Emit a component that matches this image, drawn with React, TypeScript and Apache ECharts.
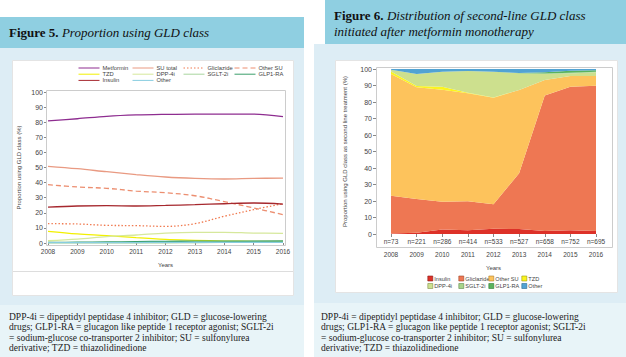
import React, { useEffect, useRef } from 'react';
import * as echarts from 'echarts';

const years = ['2008', '2009', '2010', '2011', '2012', '2013', '2014', '2015', '2016'];
const nLabels = ['n=73', 'n=221', 'n=286', 'n=414', 'n=533', 'n=527', 'n=658', 'n=752', 'n=695'];

// Figure 5 – proportion using GLD class (%)
const metformin = [80.9, 82.3, 83.9, 84.8, 85.2, 85.4, 85.4, 85.4, 83.7];
const suTotal = [50.8, 49.2, 47.2, 45.3, 43.7, 42.8, 42.4, 42.8, 43.0];
const gliclazide5 = [12.8, 12.6, 11.7, 11.5, 11.0, 12.8, 17.7, 22.1, 26.0];
const otherSU5 = [38.6, 37.1, 36.2, 34.4, 33.3, 31.3, 27.4, 23.2, 18.8];
const tzd5 = [7.7, 6.0, 4.9, 3.5, 2.4, 1.8, 1.3, 1.1, 0.9];
const dpp4i5 = [1.5, 2.6, 4.2, 5.3, 6.6, 7.1, 7.1, 6.6, 6.4];
const sglt2i5 = [0, 0, 0, 0, 0, 0.1, 0.5, 1.0, 1.5];
const glp1ra5 = [0.4, 0.5, 0.7, 0.9, 1.1, 1.2, 1.2, 1.3, 1.3];
const insulin5 = [23.8, 24.5, 24.7, 24.5, 24.9, 25.4, 26.0, 26.5, 25.8];
const other5 = [0.2, 0.2, 0.3, 0.3, 0.4, 0.4, 0.4, 0.4, 0.4];

// Figure 6 – distribution of second-line class (%), stacked
const insulin6 = [0.3, 0.8, 2.8, 2.2, 3.2, 3.0, 1.8, 2.2, 1.8];
const gliclazide6 = [22.9, 20.4, 16.8, 17.6, 14.8, 33.8, 82.2, 87.1, 88.1];
const otherSU6 = [73.8, 67.8, 67.9, 65.5, 64.6, 50.5, 9.3, 6.5, 5.9];
const tzd6 = [1.5, 0.7, 1.8, 0.3, 0.2, 0, 0, 0, 0];
const dpp4i6 = [1.1, 7.3, 9.0, 13.2, 15.6, 10.1, 3.7, 1.4, 2.2];
const sglt2i6 = [0, 0, 0, 0, 0, 0, 0.3, 0.6, 0.4];
const glp1ra6 = [0, 0, 0, 0, 0, 0.2, 0.7, 1.2, 0.8];
const other6 = [0.4, 3.0, 1.7, 1.2, 1.6, 2.4, 2.0, 1.0, 0.8];

const captionText =
  'DPP-4i = dipeptidyl peptidase 4 inhibitor; GLD = glucose-lowering\n' +
  'drugs; GLP1-RA = glucagon like peptide 1 receptor agonist; SGLT-2i\n' +
  '= sodium-glucose co-transporter 2 inhibitor; SU = sulfonylurea\n' +
  'derivative; TZD = thiazolidinedione';

const serif = '"Liberation Serif", "DejaVu Serif", serif';
const sans = '"Liberation Sans", Arial, sans-serif';

const HEAD = '#8fcfe1';
const BODY = '#ddedf5';
const CAP = '#e8f4f8';

export default function App() {
  const ref = useRef<HTMLDivElement>(null);

  useEffect(() => {
    document.body.style.margin = '0';
    const chart = echarts.init(ref.current!, undefined, { renderer: 'svg' });

    const lineS = (name: string, data: number[], color: string, type: any = 'solid', width = 1.3) => ({
      name,
      type: 'line',
      xAxisIndex: 0,
      yAxisIndex: 0,
      data,
      smooth: 0.35,
      symbol: 'none',
      itemStyle: { color },
      lineStyle: { color, width, type },
    });
    const areaS = (name: string, data: number[], color: string) => ({
      name,
      type: 'line',
      xAxisIndex: 1,
      yAxisIndex: 1,
      stack: 'total',
      data,
      symbol: 'none',
      itemStyle: { color },
      lineStyle: { width: 0, color },
      areaStyle: { color, opacity: 1 },
    });

    const axisLbl = { fontSize: 6.5, color: '#444', fontFamily: sans };
    const leftLegend = (data: string[], left: number) => ({
      orient: 'vertical',
      left,
      top: 65,
      padding: 0,
      itemGap: 0.2,
      itemWidth: 21,
      itemHeight: 6,
      itemStyle: { opacity: 0, borderWidth: 0 },
      lineStyle: { width: 1 },
      textStyle: { fontSize: 5.8, lineHeight: 6, color: '#444', fontFamily: sans, padding: [0, 0, 0, -2] },
      data,
    });
    const rightLegend = (data: { name: string; border: string }[], left: number) => ({
      orient: 'vertical',
      left,
      top: 275.5,
      padding: 0,
      itemGap: 1.5,
      itemWidth: 5,
      itemHeight: 5,
      icon: 'rect',
      textStyle: { fontSize: 5.6, lineHeight: 6, color: '#444', fontFamily: sans, padding: [0, 0, 0, -3.5] },
      data: data.map((d) => ({ name: d.name, itemStyle: { borderColor: d.border, borderWidth: 0.6 } })),
    });

    const bgEl = (x: number, y: number, w: number, h: number, fill: string, stroke?: string) => ({
      type: 'rect',
      z: -10,
      silent: true,
      shape: { x, y, width: w, height: h },
      style: { fill, stroke: stroke || null, lineWidth: stroke ? 1 : 0 },
    });

    chart.setOption({
      animation: false,
      backgroundColor: '#ffffff',
      graphic: {
        elements: [
          // Left panel
          bgEl(0, 17, 304, 31, HEAD),
          bgEl(0, 48, 304, 257, BODY),
          bgEl(0, 305, 304, 52, CAP),
          bgEl(12.5, 60.5, 281, 235, '#ffffff', '#e4e4e4'),
          { type: 'line', z: -9, silent: true, shape: { x1: 13, y1: 271.5, x2: 293, y2: 271.5 }, style: { stroke: '#dddddd', lineWidth: 1 } },
          { type: 'rect', z: 1, silent: true, shape: { x: 46.5, y: 90.5, width: 239, height: 155 }, style: { fill: null, stroke: '#cccccc', lineWidth: 1 } },
          // Right panel
          bgEl(325, 0, 301, 44, HEAD),
          bgEl(314, 44, 312, 259, BODY),
          bgEl(314, 303, 312, 54, CAP),
          bgEl(335.5, 60.5, 282, 232, '#ffffff', '#e4e4e4'),
          { type: 'rect', z: 1, silent: true, shape: { x: 376.5, y: 67.5, width: 236, height: 180 }, style: { fill: null, stroke: '#cccccc', lineWidth: 1 } },
          // Headers
          {
            type: 'text', z: 5, x: 9, y: 32,
            style: {
              text: '{b|Figure 5.} {i|Proportion using GLD class}',
              verticalAlign: 'middle',
              rich: {
                b: { fontFamily: serif, fontWeight: 'bold', fontSize: 13, fill: '#111' },
                i: { fontFamily: serif, fontStyle: 'italic', fontSize: 13, fill: '#111' },
              },
            },
          },
          {
            type: 'text', z: 5, x: 334, y: 15.5,
            style: {
              text: '{b|Figure 6.} {i|Distribution of second-line GLD class}',
              verticalAlign: 'middle',
              rich: {
                b: { fontFamily: serif, fontWeight: 'bold', fontSize: 13, fill: '#111' },
                i: { fontFamily: serif, fontStyle: 'italic', fontSize: 13, fill: '#111' },
              },
            },
          },
          {
            type: 'text', z: 5, x: 334, y: 31.5,
            style: {
              text: 'initiated after metformin monotherapy',
              verticalAlign: 'middle',
              fontFamily: serif, fontStyle: 'italic', fontSize: 13, fill: '#111',
            },
          },
          // Captions
          {
            type: 'text', z: 5, x: 9, y: 311.5,
            style: { text: captionText, verticalAlign: 'top', fontFamily: serif, fontSize: 9.5, lineHeight: 10.4, fill: '#222' },
          },
          {
            type: 'text', z: 5, x: 321, y: 311.5,
            style: { text: captionText, verticalAlign: 'top', fontFamily: serif, fontSize: 9.5, lineHeight: 10.4, fill: '#222' },
          },
        ],
      },
      legend: [
        leftLegend(['Metformin', 'TZD', 'Insulin'], 78),
        leftLegend(['SU total', 'DPP-4i', 'Other'], 132),
        leftLegend(['Gliclazide', 'SGLT-2i'], 183),
        leftLegend(['Other SU', 'GLP1-RA'], 234),
        rightLegend([{ name: 'Insulin ', border: '#8a1a14' }, { name: 'DPP-4i ', border: '#7d8f4a' }], 427.5),
        rightLegend([{ name: 'Gliclazide ', border: '#a0462a' }, { name: 'SGLT-2i ', border: '#5d8a4e' }], 458.5),
        rightLegend([{ name: 'Other SU ', border: '#b07d2a' }, { name: 'GLP1-RA ', border: '#2f7a35' }], 488.5),
        rightLegend([{ name: 'TZD ', border: '#9a9a10' }, { name: 'Other ', border: '#2a6a90' }], 521.5),
      ],
      grid: [
        { left: 48, right: 343, top: 92, bottom: 114 },
        { left: 391, right: 30, top: 69, bottom: 123 },
      ],
      xAxis: [
        {
          gridIndex: 0, type: 'category', data: years, boundaryGap: false, offset: 2,
          axisLine: { show: false },
          axisTick: { show: true, length: 3, lineStyle: { color: '#888' } },
          axisLabel: { ...axisLbl, margin: 3 },
          name: 'Years', nameLocation: 'middle', nameGap: 17,
          nameTextStyle: { fontSize: 6, color: '#444', fontFamily: sans },
        },
        {
          gridIndex: 1, type: 'category', data: years, boundaryGap: false, offset: 13,
          axisLine: { show: false },
          axisTick: { show: true, length: 3, lineStyle: { color: '#888' } },
          axisLabel: { ...axisLbl, margin: 4 },
          name: 'Years', nameLocation: 'middle', nameGap: 18,
          nameTextStyle: { fontSize: 6, color: '#444', fontFamily: sans },
        },
        {
          gridIndex: 1, type: 'category', data: nLabels, boundaryGap: false, offset: 0, position: 'bottom',
          axisLine: { show: false },
          axisTick: { show: false },
          axisLabel: { ...axisLbl, margin: 4 },
        },
      ],
      yAxis: [
        {
          gridIndex: 0, type: 'value', min: 0, max: 100, interval: 10, offset: 2,
          axisLine: { show: false },
          axisTick: { show: true, length: 2, lineStyle: { color: '#888' } },
          splitLine: { show: false },
          axisLabel: { ...axisLbl, fontSize: 7, margin: 3 },
          name: 'Proportion using GLD class (%)', nameLocation: 'middle', nameGap: 24,
          nameTextStyle: { fontSize: 6, color: '#444', fontFamily: sans },
        },
        {
          gridIndex: 1, type: 'value', min: 0, max: 100, interval: 10, offset: 15,
          axisLine: { show: false },
          axisTick: { show: true, length: 3, lineStyle: { color: '#888' } },
          splitLine: { show: false },
          axisLabel: { ...axisLbl, fontSize: 7, margin: 4 },
          name: 'Proportion using GLD class as second line treatment (%)', nameLocation: 'middle', nameGap: 28,
          nameTextStyle: { fontSize: 6, color: '#444', fontFamily: sans },
        },
      ],
      series: [
        lineS('Metformin', metformin, '#8e2d90'),
        lineS('SU total', suTotal, '#e99a82'),
        lineS('Gliclazide', gliclazide5, '#f07a50', [1.5, 2]),
        lineS('Other SU', otherSU5, '#ec8e70', [5, 3]),
        lineS('TZD', tzd5, '#f2f000'),
        lineS('DPP-4i', dpp4i5, '#d6e89c'),
        lineS('SGLT-2i', sglt2i5, '#a9d59e'),
        lineS('GLP1-RA', glp1ra5, '#3a9e6a'),
        lineS('Insulin', insulin5, '#a6282e'),
        lineS('Other', other5, '#88cde0'),
        areaS('Insulin ', insulin6, '#dd3128'),
        areaS('Gliclazide ', gliclazide6, '#ee7753'),
        areaS('Other SU ', otherSU6, '#fdc35c'),
        areaS('TZD ', tzd6, '#fbf41e'),
        areaS('DPP-4i ', dpp4i6, '#cde08e'),
        areaS('SGLT-2i ', sglt2i6, '#a8d48a'),
        areaS('GLP1-RA ', glp1ra6, '#5ab35d'),
        areaS('Other ', other6, '#52a3d3'),
      ],
    });

    return () => chart.dispose();
  }, []);

  return (
    <div
      ref={ref}
      style={{ position: 'fixed', left: 0, top: 0, width: 626, height: 357 }}
    />
  );
}
